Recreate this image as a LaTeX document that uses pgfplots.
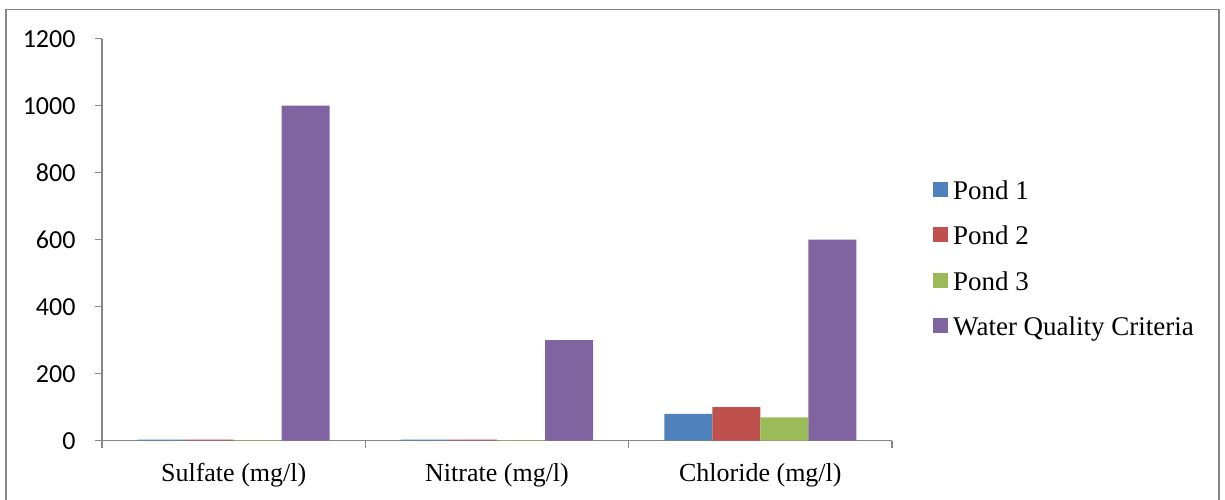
\documentclass[border=0pt]{standalone}
\usepackage{pgfplots}
\pgfplotsset{compat=1.18}
\usepackage{fontspec}
\setmainfont{Liberation Serif}
\newfontfamily\calibri{Carlito}

\definecolor{xlblue}{HTML}{4F81BD}
\definecolor{xlred}{HTML}{C0504D}
\definecolor{xlgreen}{HTML}{9BBB59}
\definecolor{xlpurple}{HTML}{8064A2}
\definecolor{axgray}{HTML}{868686}

\begin{document}
\begin{tikzpicture}
\useasboundingbox (0pt,0pt) rectangle (1225pt,499pt);
\draw[axgray, line width=1.3pt] (6pt,-10pt) rectangle (1219pt,489.7pt);
\begin{axis}[
  at={(102pt,58.3pt)}, anchor=south west,
  scale only axis, width=790pt, height=402pt,
  xmin=-0.5, xmax=2.5, ymin=0, ymax=1200,
  ybar=0pt, bar width=0.1823,
  axis x line*=bottom, axis y line*=left,
  axis line style={axgray, line width=1.2pt},
  tick style={axgray, line width=1.2pt},
  tick align=outside,
  major tick length=7pt, minor tick length=7pt,
  xtick={0,1,2},
  xticklabels={Sulfate (mg/l), Nitrate (mg/l), Chloride (mg/l)},
  minor xtick={-0.5,0.5,1.5,2.5},
  major x tick style={draw=none},
  ytick={0,200,...,1200},
  /pgf/number format/1000 sep={},
  /pgf/number format/assume math mode=true,
  yticklabel style={font=\calibri\fontsize{26}{30}\selectfont, xshift=-16pt},
  xticklabel style={font=\fontsize{26}{30}\selectfont, yshift=-12pt},
  legend style={at={(1.0519,0.4475)}, anchor=west, draw=none, fill=none,
    inner sep=0pt, row sep=22.5pt,
    font=\fontsize{27}{30}\selectfont,
    nodes={inner xsep=5pt, inner ysep=0pt, text height=18pt, text depth=5pt}},
  legend cell align=left,
  legend image code/.code={\fill[#1] (0pt,-4pt) rectangle (15pt,11pt);},
]
\addplot[fill=xlblue, draw=none] coordinates {(0,3) (1,3) (2,80)};
\addplot[fill=xlred, draw=none] coordinates {(0,3) (1,3) (2,100)};
\addplot[fill=xlgreen, draw=none] coordinates {(0,2) (1,2) (2,70)};
\addplot[fill=xlpurple, draw=none] coordinates {(0,1000) (1,300) (2,600)};
\legend{Pond 1, Pond 2, Pond 3, Water Quality Criteria}
\end{axis}
\end{tikzpicture}
\end{document}
